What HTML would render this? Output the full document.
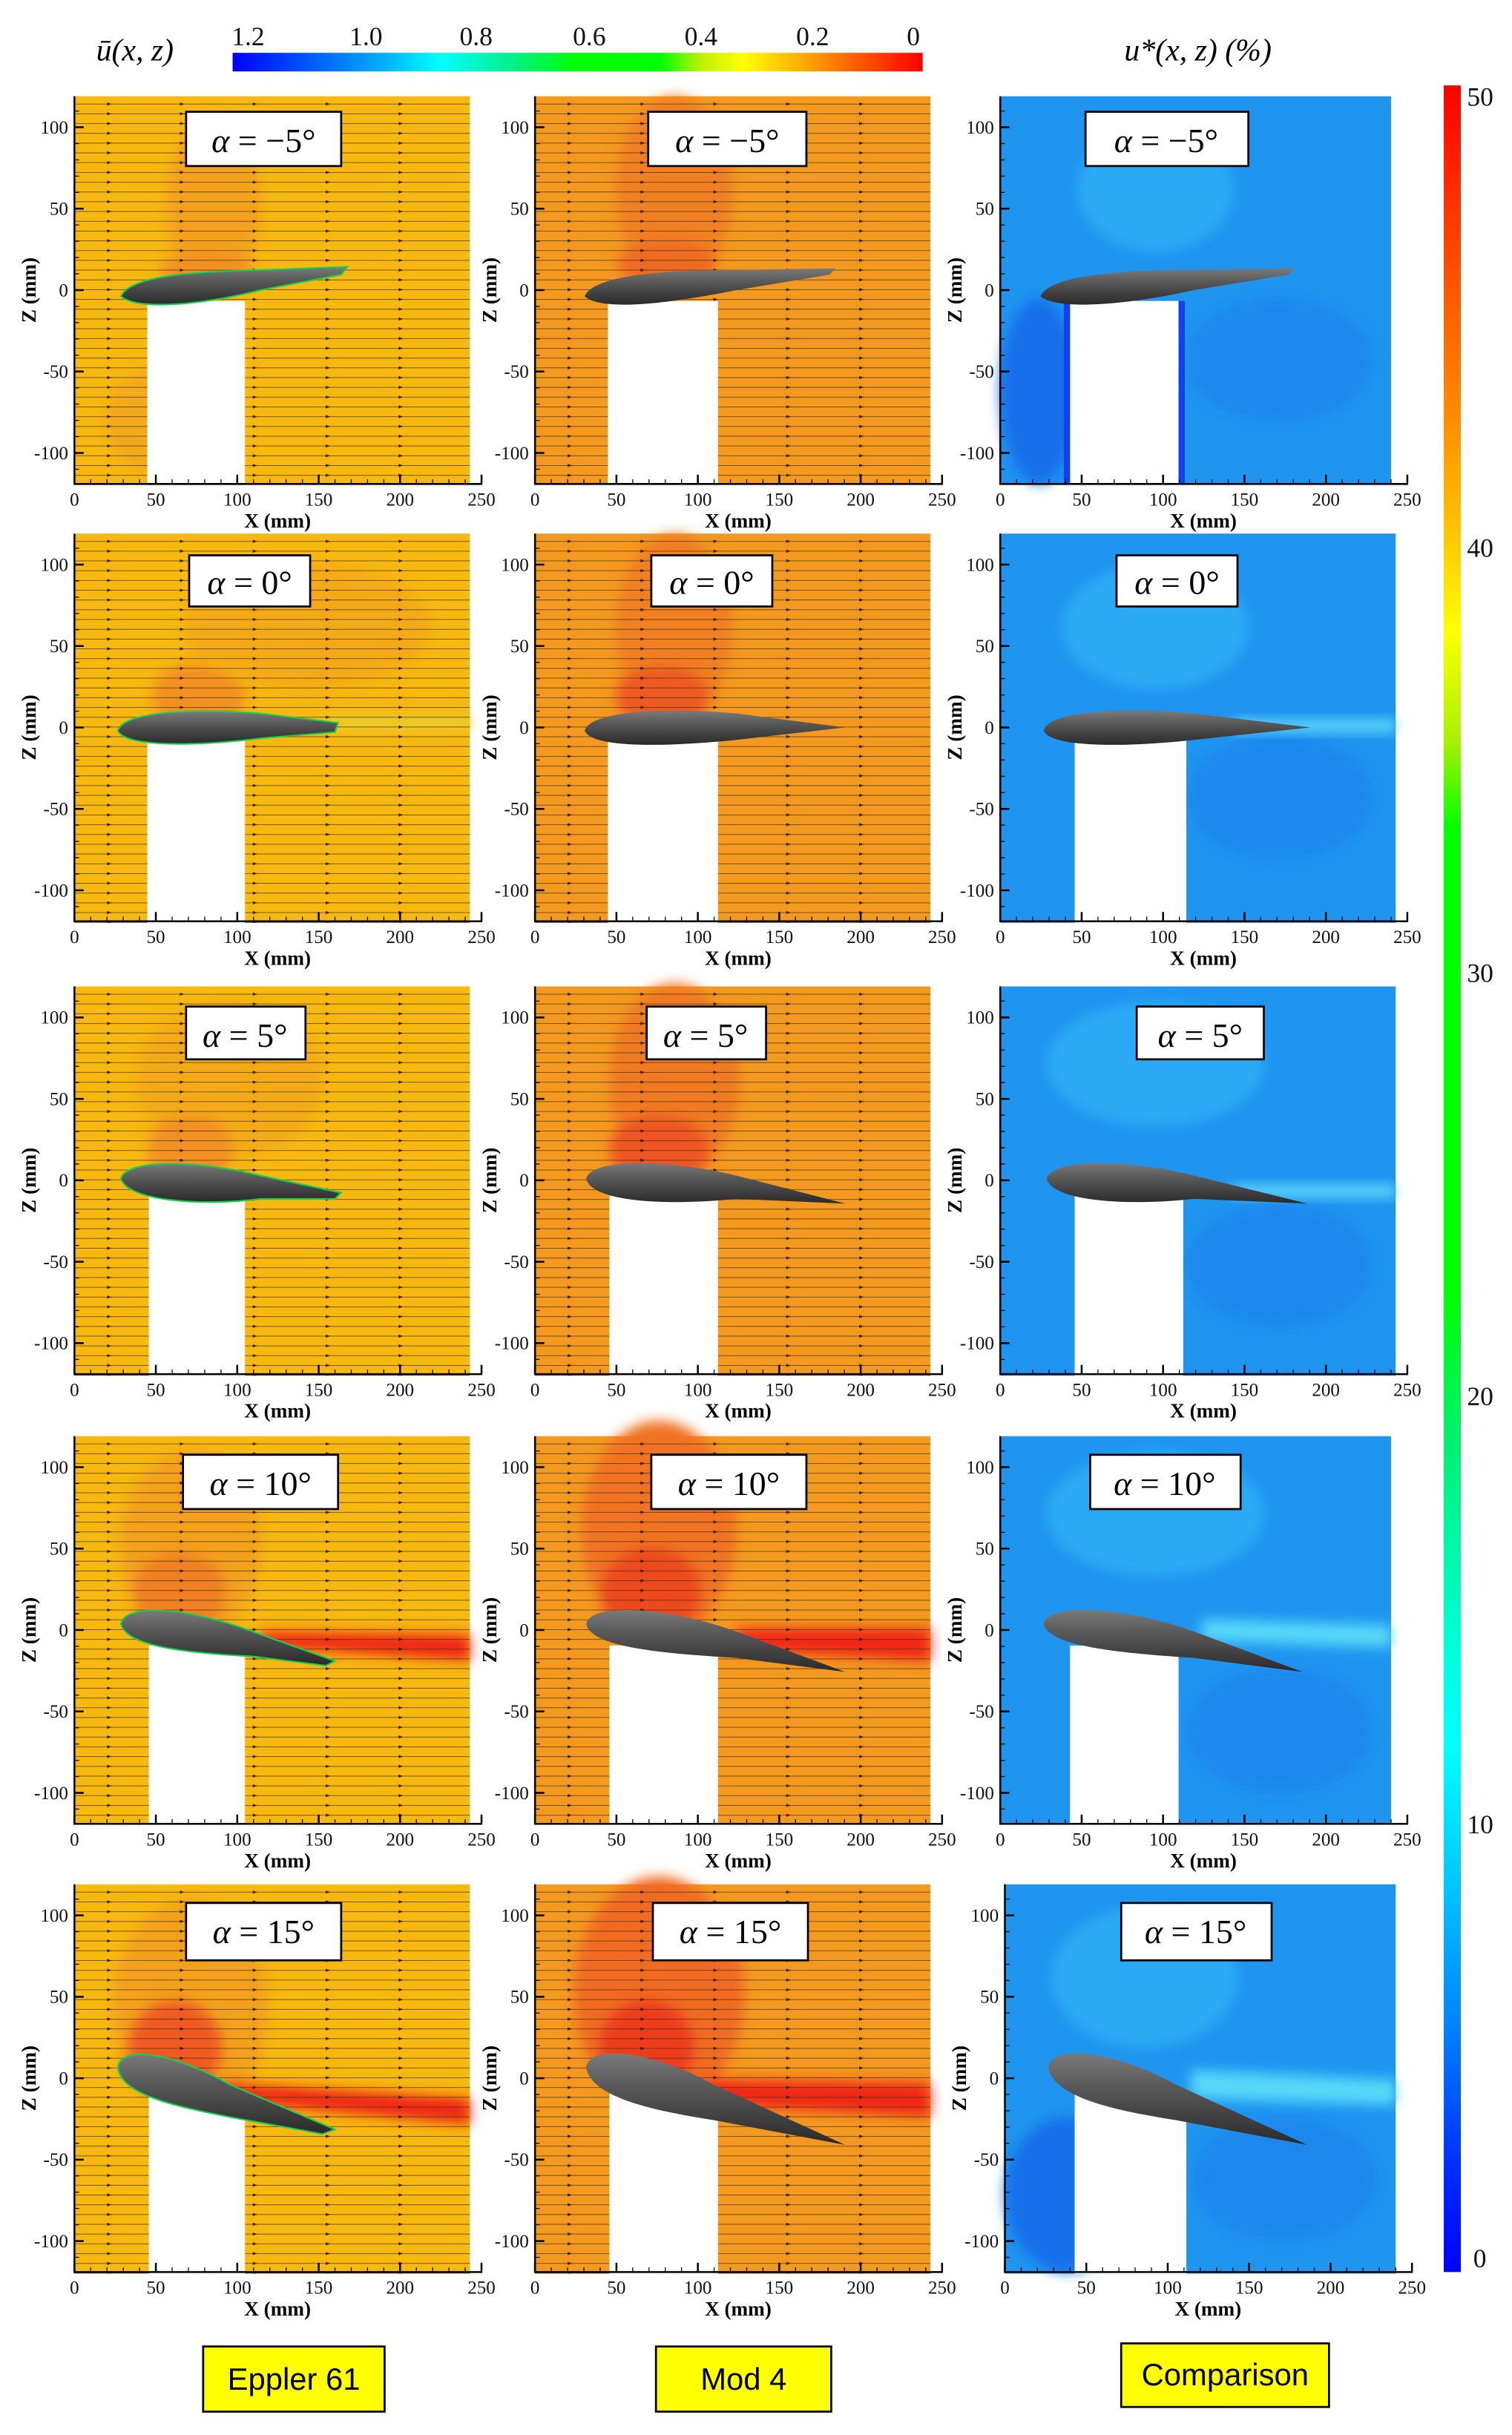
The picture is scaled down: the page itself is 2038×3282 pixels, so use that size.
<!DOCTYPE html>
<html><head><meta charset="utf-8"><style>
html,body{margin:0;padding:0;background:#fff}
svg{display:block}
text{font-family:"Liberation Serif",serif}
</style></head><body>
<svg width="2038" height="3282" viewBox="0 0 975 1570" xmlns="http://www.w3.org/2000/svg">
<defs>
<pattern id="sl" patternUnits="userSpaceOnUse" width="47" height="6.3" y="2">
<line x1="0" y1="3" x2="47" y2="3" stroke="#4a3410" stroke-width="0.4" stroke-opacity="0.85"/>
<path d="M21,2 L24,3 L21,4 Z" fill="#3a2400"/>
</pattern>
<linearGradient id="cbv" x1="0" y1="0" x2="0" y2="1">
<stop offset="0" stop-color="#ff0000"/><stop offset="0.08" stop-color="#ff4a00"/>
<stop offset="0.15" stop-color="#ff8a00"/><stop offset="0.2" stop-color="#ffc000"/>
<stop offset="0.25" stop-color="#ffff00"/><stop offset="0.3" stop-color="#a8f000"/>
<stop offset="0.34" stop-color="#00ff00"/><stop offset="0.55" stop-color="#00ff00"/>
<stop offset="0.62" stop-color="#00f070"/><stop offset="0.72" stop-color="#00ffe0"/>
<stop offset="0.76" stop-color="#00ffff"/><stop offset="0.82" stop-color="#00c8ff"/>
<stop offset="0.89" stop-color="#0080ff"/><stop offset="0.95" stop-color="#0030ff"/>
<stop offset="1" stop-color="#0000ff"/></linearGradient>
<linearGradient id="cbh" x1="0" y1="0" x2="1" y2="0">
<stop offset="0" stop-color="#0000ff"/><stop offset="0.12" stop-color="#0060ff"/>
<stop offset="0.22" stop-color="#00b0ff"/><stop offset="0.3" stop-color="#00ffff"/>
<stop offset="0.4" stop-color="#00f090"/><stop offset="0.5" stop-color="#00ff00"/>
<stop offset="0.62" stop-color="#00ff00"/><stop offset="0.68" stop-color="#c0f000"/>
<stop offset="0.74" stop-color="#ffff00"/><stop offset="0.82" stop-color="#ffb000"/>
<stop offset="0.9" stop-color="#ff6000"/><stop offset="1" stop-color="#ff0000"/></linearGradient>
<linearGradient id="af" x1="0" y1="0" x2="0" y2="1">
<stop offset="0" stop-color="#7a7a7a"/><stop offset="0.35" stop-color="#5a5a5a"/><stop offset="1" stop-color="#2a2a2a"/></linearGradient>
<filter id="bl" x="-50%" y="-50%" width="200%" height="200%"><feGaussianBlur stdDeviation="4"/></filter>
<symbol id="ax" overflow="visible">
<g stroke="#000" stroke-width="1.2" fill="none">
<path d="M0,0 V250 H263"/>
<path d="M0,250 v-6 M52.5,250 v-6 M105,250 v-6 M157.5,250 v-6 M210,250 v-6 M262.5,250 v-6"/>
<path d="M0,20 h6 M0,72.5 h6 M0,125 h6 M0,177.5 h6 M0,230 h6"/>
</g>
<g stroke="#000" stroke-width="0.6">
<path d="M10.5,250 v-3 M21,250 v-3 M31.5,250 v-3 M42,250 v-3 M63,250 v-3 M73.5,250 v-3 M84,250 v-3 M94.5,250 v-3 M115.5,250 v-3 M126,250 v-3 M136.5,250 v-3 M147,250 v-3 M168,250 v-3 M178.5,250 v-3 M189,250 v-3 M199.5,250 v-3 M220.5,250 v-3 M231,250 v-3 M241.5,250 v-3 M252,250 v-3"/>
<path d="M0,9.5 h3 M0,30.5 h3 M0,41 h3 M0,51.5 h3 M0,62 h3 M0,83 h3 M0,93.5 h3 M0,104 h3 M0,114.5 h3 M0,135.5 h3 M0,146 h3 M0,156.5 h3 M0,167 h3 M0,188 h3 M0,198.5 h3 M0,209 h3 M0,219.5 h3 M0,240.5 h3"/>
</g>
<g font-size="12" fill="#111" text-anchor="middle">
<text x="0" y="264">0</text><text x="52.5" y="264">50</text><text x="105" y="264">100</text>
<text x="157.5" y="264">150</text><text x="210" y="264">200</text><text x="262.5" y="264">250</text>
</g>
<g font-size="12" fill="#111" text-anchor="end">
<text x="-4" y="24">100</text><text x="-4" y="76.5">50</text><text x="-4" y="129">0</text>
<text x="-4" y="181.5">-50</text><text x="-4" y="234">-100</text>
</g>
<text x="131" y="278" font-size="13" font-weight="bold" text-anchor="middle">X (mm)</text>
<text transform="translate(-25,125) rotate(-90)" font-size="13" font-weight="bold" text-anchor="middle">Z (mm)</text>
</symbol>
</defs>

<text x="62" y="39" font-size="20" font-style="italic">ū(x, z)</text>
<rect x="150" y="34" width="445" height="12" fill="url(#cbh)"/>
<g font-size="17" text-anchor="middle" fill="#111">
<text x="160" y="29">1.2</text><text x="236" y="29">1.0</text><text x="307" y="29">0.8</text>
<text x="380" y="29">0.6</text><text x="452" y="29">0.4</text><text x="524" y="29">0.2</text><text x="589" y="29">0</text>
</g>
<text x="725" y="39" font-size="20" font-style="italic">u*(x, z) (%)</text>
<rect x="931" y="55" width="11" height="1410" fill="url(#cbv)"/>
<g font-size="17" fill="#111">
<text x="946" y="68">50</text><text x="946" y="359">40</text><text x="946" y="633">30</text>
<text x="946" y="906">20</text><text x="946" y="1182">10</text><text x="950" y="1462">0</text>
</g>

<!-- ROW 1 -->
<g transform="translate(48,62)">
<rect width="255" height="250" fill="#f7b80f"/>
<ellipse cx="90" cy="70" rx="30" ry="55" fill="#f3a11c" filter="url(#bl)"/>
<ellipse cx="85" cy="112" rx="30" ry="12" fill="#f29020" filter="url(#bl)"/>
<ellipse cx="60" cy="210" rx="40" ry="35" fill="#f4a81a" filter="url(#bl)"/>
<rect width="255" height="250" fill="url(#sl)"/>
<rect x="47" y="132" width="63" height="118" fill="#fff"/>
<path d="M30,129 C36,115 80,113 122,112 L176,110 L172,115 L120,125 C80,135 40,138 30,129 Z" fill="url(#af)" stroke="#12d050" stroke-width="1"/>
<rect x="72" y="10" width="100" height="35" fill="#fff" stroke="#000" stroke-width="1.3"/>
<text x="122" y="36" font-size="22" text-anchor="middle"><tspan font-style="italic">α</tspan> = −5°</text>
<use href="#ax"/>
</g>
<g transform="translate(345,62)">
<rect width="255" height="250" fill="#f3991f"/>
<ellipse cx="90" cy="60" rx="38" ry="60" fill="#f08024" filter="url(#bl)"/>
<ellipse cx="85" cy="108" rx="32" ry="15" fill="#ee6a22" filter="url(#bl)"/>
<rect width="255" height="250" fill="url(#sl)"/>
<rect x="47" y="132" width="71" height="118" fill="#fff"/>
<path d="M32,129 C38,115 85,112 130,112 L194,111 L190,115 L130,125 C80,135 42,138 32,129 Z" fill="url(#af)"/>
<rect x="73" y="10" width="102" height="35" fill="#fff" stroke="#000" stroke-width="1.3"/>
<text x="124" y="36" font-size="22" text-anchor="middle"><tspan font-style="italic">α</tspan> = −5°</text>
<use href="#ax"/>
</g>
<g transform="translate(645,62)">
<rect width="252" height="250" fill="#1f95f0"/>
<ellipse cx="100" cy="60" rx="50" ry="40" fill="#2aaaf4" filter="url(#bl)"/>
<ellipse cx="25" cy="190" rx="25" ry="60" fill="#1470ea" filter="url(#bl)"/>
<ellipse cx="180" cy="170" rx="60" ry="40" fill="#1a88ee" filter="url(#bl)"/>
<rect x="45" y="132" width="70" height="118" fill="#fff"/>
<rect x="41" y="132" width="4" height="118" fill="#1040f0"/>
<rect x="115" y="132" width="4" height="118" fill="#1040f0"/>
<path d="M26,129 C32,115 80,112 125,112 L190,111 L186,115 L125,125 C80,135 36,138 26,129 Z" fill="url(#af)"/>
<rect x="55" y="10" width="105" height="35" fill="#fff" stroke="#000" stroke-width="1.3"/>
<text x="107" y="36" font-size="22" text-anchor="middle"><tspan font-style="italic">α</tspan> = −5°</text>
<use href="#ax"/>
</g>

<!-- ROW 2 -->
<g transform="translate(48,344)">
<rect width="255" height="251" fill="#f7b80f"/>
<ellipse cx="80" cy="105" rx="30" ry="22" fill="#f29020" filter="url(#bl)"/>
<ellipse cx="150" cy="60" rx="80" ry="40" fill="#f4aa18" filter="url(#bl)"/>
<rect x="160" y="118" width="95" height="8" fill="#e8d030" filter="url(#bl)"/>
<rect width="255" height="251" fill="url(#sl)"/>
<rect x="47" y="132" width="63" height="119" fill="#fff"/>
<path d="M28,127 C32,114 80,113 120,116 L170,122 L168,128 L120,132 C80,137 32,138 28,127 Z" fill="url(#af)" stroke="#12d050" stroke-width="1"/>
<rect x="74" y="14" width="78" height="33" fill="#fff" stroke="#000" stroke-width="1.3"/>
<text x="113" y="39" font-size="22" text-anchor="middle"><tspan font-style="italic">α</tspan> = 0°</text>
<use href="#ax"/>
</g>
<g transform="translate(345,344)">
<rect width="255" height="251" fill="#f3991f"/>
<ellipse cx="90" cy="60" rx="38" ry="60" fill="#f08024" filter="url(#bl)"/>
<ellipse cx="82" cy="105" rx="30" ry="20" fill="#ee5a20" filter="url(#bl)"/>
<rect width="255" height="251" fill="url(#sl)"/>
<rect x="47" y="132" width="71" height="119" fill="#fff"/>
<path d="M32,127 C36,114 85,112 130,116 L200,125 L130,133 C80,138 36,138 32,127 Z" fill="url(#af)"/>
<rect x="75" y="14" width="78" height="33" fill="#fff" stroke="#000" stroke-width="1.3"/>
<text x="114" y="39" font-size="22" text-anchor="middle"><tspan font-style="italic">α</tspan> = 0°</text>
<use href="#ax"/>
</g>
<g transform="translate(645,344)">
<rect width="255" height="251" fill="#1f95f0"/>
<ellipse cx="100" cy="60" rx="60" ry="40" fill="#2aaaf4" filter="url(#bl)"/>
<ellipse cx="180" cy="170" rx="60" ry="40" fill="#1a88ee" filter="url(#bl)"/>
<rect x="150" y="120" width="105" height="8" fill="#60d8f8" filter="url(#bl)"/>
<rect x="48" y="132" width="72" height="119" fill="#fff"/>
<path d="M28,127 C32,114 80,112 125,116 L200,125 L125,133 C80,138 32,138 28,127 Z" fill="url(#af)"/>
<rect x="75" y="14" width="78" height="33" fill="#fff" stroke="#000" stroke-width="1.3"/>
<text x="114" y="39" font-size="22" text-anchor="middle"><tspan font-style="italic">α</tspan> = 0°</text>
<use href="#ax"/>
</g>

<!-- ROW 3 -->
<g transform="translate(48,636)">
<rect width="255" height="251" fill="#f7b80f"/>
<ellipse cx="100" cy="60" rx="60" ry="50" fill="#f4aa18" filter="url(#bl)"/>
<ellipse cx="75" cy="105" rx="28" ry="22" fill="#f29020" filter="url(#bl)"/>
<rect width="255" height="251" fill="url(#sl)"/>
<rect x="48" y="135" width="62" height="116" fill="#fff"/>
<path d="M30,124 C33,111 80,112 120,122 L172,133 L168,137 L120,137 C80,142 34,138 30,124 Z" fill="url(#af)" stroke="#12d050" stroke-width="1"/>
<rect x="72" y="13" width="77" height="34" fill="#fff" stroke="#000" stroke-width="1.3"/>
<text x="110" y="39" font-size="22" text-anchor="middle"><tspan font-style="italic">α</tspan> = 5°</text>
<use href="#ax"/>
</g>
<g transform="translate(345,636)">
<rect width="255" height="251" fill="#f3991f"/>
<ellipse cx="90" cy="60" rx="42" ry="62" fill="#f07a24" filter="url(#bl)"/>
<ellipse cx="80" cy="105" rx="32" ry="22" fill="#ee5520" filter="url(#bl)"/>
<rect width="255" height="251" fill="url(#sl)"/>
<rect x="48" y="135" width="70" height="116" fill="#fff"/>
<path d="M33,124 C36,111 85,111 130,122 L200,140 L130,137 C80,142 36,138 33,124 Z" fill="url(#af)"/>
<rect x="72" y="13" width="77" height="34" fill="#fff" stroke="#000" stroke-width="1.3"/>
<text x="110" y="39" font-size="22" text-anchor="middle"><tspan font-style="italic">α</tspan> = 5°</text>
<use href="#ax"/>
</g>
<g transform="translate(645,636)">
<rect width="255" height="251" fill="#1f95f0"/>
<ellipse cx="100" cy="50" rx="70" ry="40" fill="#2aaaf4" filter="url(#bl)"/>
<ellipse cx="180" cy="180" rx="60" ry="40" fill="#1a88ee" filter="url(#bl)"/>
<rect x="150" y="128" width="105" height="8" fill="#60d8f8" filter="url(#bl)"/>
<rect x="48" y="135" width="70" height="116" fill="#fff"/>
<path d="M30,124 C33,111 82,111 125,122 L198,140 L125,137 C80,142 33,138 30,124 Z" fill="url(#af)"/>
<rect x="88" y="13" width="82" height="34" fill="#fff" stroke="#000" stroke-width="1.3"/>
<text x="129" y="39" font-size="22" text-anchor="middle"><tspan font-style="italic">α</tspan> = 5°</text>
<use href="#ax"/>
</g>

<!-- ROW 4 -->
<g transform="translate(48,926)">
<rect width="255" height="250" fill="#f7b80f"/>
<ellipse cx="75" cy="70" rx="45" ry="60" fill="#f3a01c" filter="url(#bl)"/>
<ellipse cx="68" cy="100" rx="30" ry="25" fill="#f08024" filter="url(#bl)"/>
<path d="M120,126 L255,128 L255,145 L120,136 Z" fill="#f02818" filter="url(#bl)"/>
<rect width="255" height="250" fill="url(#sl)"/>
<rect x="48" y="135" width="62" height="115" fill="#fff"/>
<path d="M30,121 C33,107 75,111 115,126 L168,145 L162,148 L115,142 C75,140 33,136 30,121 Z" fill="url(#af)" stroke="#12d050" stroke-width="1"/>
<rect x="70" y="12" width="100" height="35" fill="#fff" stroke="#000" stroke-width="1.3"/>
<text x="120" y="38" font-size="22" text-anchor="middle"><tspan font-style="italic">α</tspan> = 10°</text>
<use href="#ax"/>
</g>
<g transform="translate(345,926)">
<rect width="255" height="250" fill="#f3991f"/>
<ellipse cx="80" cy="60" rx="50" ry="70" fill="#f07224" filter="url(#bl)"/>
<ellipse cx="75" cy="100" rx="32" ry="28" fill="#ee4a1e" filter="url(#bl)"/>
<path d="M130,124 L255,124 L255,145 L130,138 Z" fill="#f02818" filter="url(#bl)"/>
<rect width="255" height="250" fill="url(#sl)"/>
<rect x="48" y="135" width="70" height="115" fill="#fff"/>
<path d="M33,121 C36,107 85,110 130,126 L200,152 L130,143 C80,140 36,136 33,121 Z" fill="url(#af)"/>
<rect x="75" y="12" width="100" height="35" fill="#fff" stroke="#000" stroke-width="1.3"/>
<text x="125" y="38" font-size="22" text-anchor="middle"><tspan font-style="italic">α</tspan> = 10°</text>
<use href="#ax"/>
</g>
<g transform="translate(645,926)">
<rect width="252" height="250" fill="#1f95f0"/>
<ellipse cx="100" cy="50" rx="70" ry="40" fill="#2aaaf4" filter="url(#bl)"/>
<ellipse cx="180" cy="190" rx="60" ry="40" fill="#1a88ee" filter="url(#bl)"/>
<path d="M130,118 L252,122 L252,136 L130,132 Z" fill="#58d8f8" filter="url(#bl)"/>
<rect x="45" y="135" width="70" height="115" fill="#fff"/>
<path d="M28,121 C31,107 80,110 125,126 L195,152 L125,143 C80,140 31,136 28,121 Z" fill="url(#af)"/>
<rect x="58" y="12" width="97" height="35" fill="#fff" stroke="#000" stroke-width="1.3"/>
<text x="106" y="38" font-size="22" text-anchor="middle"><tspan font-style="italic">α</tspan> = 10°</text>
<use href="#ax"/>
</g>

<!-- ROW 5 -->
<g transform="translate(48,1215)">
<rect width="255" height="251" fill="#f7b80f"/>
<ellipse cx="75" cy="80" rx="50" ry="70" fill="#f3a01c" filter="url(#bl)"/>
<ellipse cx="65" cy="105" rx="30" ry="30" fill="#f05a22" filter="url(#bl)"/>
<path d="M95,128 L255,138 L255,155 L95,140 Z" fill="#f02818" filter="url(#bl)"/>
<rect width="255" height="251" fill="url(#sl)"/>
<rect x="48" y="135" width="62" height="116" fill="#fff"/>
<path d="M28,118 C30,103 65,109 100,129 L168,158 L160,161 L100,150 C65,143 30,136 28,118 Z" fill="url(#af)" stroke="#12d050" stroke-width="1"/>
<rect x="72" y="12" width="100" height="37" fill="#fff" stroke="#000" stroke-width="1.3"/>
<text x="122" y="38" font-size="22" text-anchor="middle"><tspan font-style="italic">α</tspan> = 15°</text>
<use href="#ax"/>
</g>
<g transform="translate(345,1215)">
<rect width="255" height="251" fill="#f3991f"/>
<ellipse cx="80" cy="70" rx="55" ry="75" fill="#f06a24" filter="url(#bl)"/>
<ellipse cx="72" cy="105" rx="30" ry="30" fill="#ee3a1c" filter="url(#bl)"/>
<path d="M110,126 L255,128 L255,150 L110,142 Z" fill="#f02818" filter="url(#bl)"/>
<rect width="255" height="251" fill="url(#sl)"/>
<rect x="48" y="135" width="70" height="116" fill="#fff"/>
<path d="M33,118 C35,103 75,107 115,129 L200,168 L115,152 C70,145 36,136 33,118 Z" fill="url(#af)"/>
<rect x="76" y="12" width="100" height="37" fill="#fff" stroke="#000" stroke-width="1.3"/>
<text x="126" y="38" font-size="22" text-anchor="middle"><tspan font-style="italic">α</tspan> = 15°</text>
<use href="#ax"/>
</g>
<g transform="translate(648,1215)">
<rect width="252" height="251" fill="#1f95f0"/>
<ellipse cx="90" cy="60" rx="60" ry="45" fill="#2aaaf4" filter="url(#bl)"/>
<ellipse cx="40" cy="200" rx="40" ry="50" fill="#1470ea" filter="url(#bl)"/>
<ellipse cx="180" cy="190" rx="60" ry="40" fill="#1a88ee" filter="url(#bl)"/>
<path d="M120,120 L252,126 L252,142 L120,138 Z" fill="#58d8f8" filter="url(#bl)"/>
<rect x="45" y="135" width="72" height="116" fill="#fff"/>
<path d="M28,118 C30,103 70,107 110,129 L195,168 L110,152 C65,145 31,136 28,118 Z" fill="url(#af)"/>
<rect x="75" y="12" width="97" height="37" fill="#fff" stroke="#000" stroke-width="1.3"/>
<text x="123" y="38" font-size="22" text-anchor="middle"><tspan font-style="italic">α</tspan> = 15°</text>
<use href="#ax"/>
</g>

<g font-size="20" text-anchor="middle">
<rect x="131" y="1513" width="117" height="42" fill="#ffff00" stroke="#000" stroke-width="1.3"/>
<text x="189.5" y="1541" style="font-family:'Liberation Sans',sans-serif">Eppler 61</text>
<rect x="423" y="1513" width="113" height="42" fill="#ffff00" stroke="#000" stroke-width="1.3"/>
<text x="479.5" y="1541" style="font-family:'Liberation Sans',sans-serif">Mod 4</text>
<rect x="723" y="1511" width="134" height="41" fill="#ffff00" stroke="#000" stroke-width="1.3"/>
<text x="790" y="1538" style="font-family:'Liberation Sans',sans-serif">Comparison</text>
</g>
</svg>
</body></html>
